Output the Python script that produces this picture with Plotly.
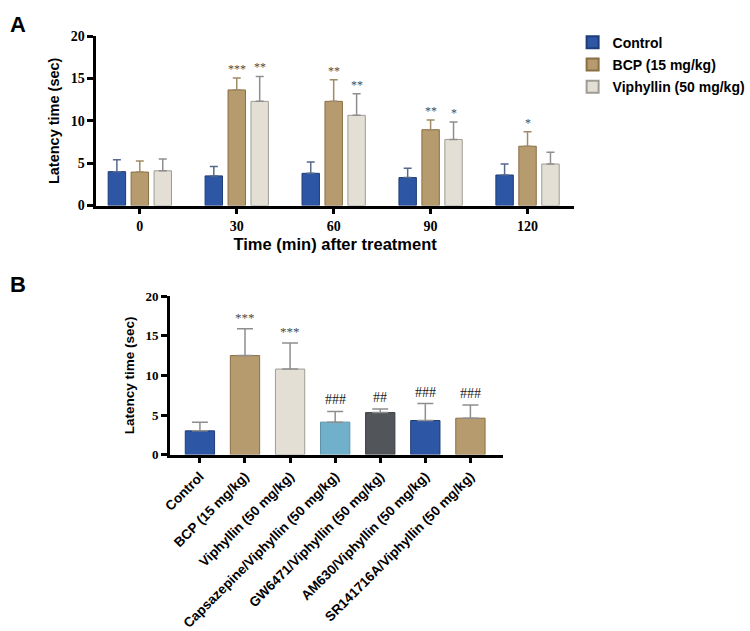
import plotly.graph_objects as go

# Panel A data
times = ["0", "30", "60", "90", "120"]
control_a = [4.0, 3.5, 3.8, 3.3, 3.6]
control_a_sd = [1.4, 1.1, 1.35, 1.1, 1.3]
bcp_a = [3.95, 13.65, 12.3, 8.95, 7.0]
bcp_a_sd = [1.3, 1.4, 2.55, 1.15, 1.7]
viph_a = [4.1, 12.3, 10.65, 7.8, 4.9]
viph_a_sd = [1.4, 2.95, 2.55, 2.05, 1.4]
marks_bcp_a = ["", "***", "**", "**", "*"]
marks_viph_a = ["", "**", "**", "*", ""]

# Panel B data
groups_b = [
    "Control",
    "BCP (15 mg/kg)",
    "Viphyllin (50 mg/kg)",
    "Capsazepine/Viphyllin (50 mg/kg)",
    "GW6471/Viphyllin (50 mg/kg)",
    "AM630/Viphyllin (50 mg/kg)",
    "SR141716A/Viphyllin (50 mg/kg)",
]
values_b = [3.0, 12.5, 10.8, 4.1, 5.3, 4.3, 4.6]
sd_b = [1.1, 3.4, 3.3, 1.35, 0.45, 2.15, 1.65]
marks_b = ["", "***", "***", "###", "##", "###", "###"]

BLUE, BLUE_LINE, BLUE_ERR = "#2D56A4", "#1E3C78", "#56688C"
TAN, TAN_LINE, TAN_ERR = "#B69B6E", "#8A6E44", "#A18A66"
LIGHT, LIGHT_LINE, LIGHT_ERR = "#E3DFD4", "#9E9C95", "#8E8E8E"
CYAN, CYAN_LINE = "#70B0CA", "#5A92AA"
GREY, GREY_LINE = "#52565B", "#3A3D41"

SANS = "Liberation Sans"
SERIF = "Liberation Serif"

fig = go.Figure()

xa = list(range(len(times)))
series_a = [
    ("Control", control_a, control_a_sd, BLUE, BLUE_LINE, BLUE_ERR),
    ("BCP (15 mg/kg)", bcp_a, bcp_a_sd, TAN, TAN_LINE, TAN_ERR),
    ("Viphyllin (50 mg/kg)", viph_a, viph_a_sd, LIGHT, LIGHT_LINE, LIGHT_ERR),
]
for name, vals, sd, fill, line, err in series_a:
    fig.add_trace(
        go.Bar(
            x=xa,
            y=vals,
            name=name,
            legendgroup=name,
            marker=dict(color=fill, line=dict(color=line, width=1)),
            error_y=dict(type="data", array=sd, arrayminus=[0] * len(sd),
                         symmetric=False, color=err, thickness=1.5, width=4),
            xaxis="x",
            yaxis="y",
        )
    )

slot = 0.71 / 3
for j, (vals, sd, marks) in enumerate(
    [(bcp_a, bcp_a_sd, marks_bcp_a), (viph_a, viph_a_sd, marks_viph_a)]
):
    off = j * slot
    for i, m in enumerate(marks):
        if m:
            fig.add_annotation(
                x=i + off, y=vals[i] + sd[i], text=m, showarrow=False,
                xref="x", yref="y", yanchor="bottom", yshift=0,
                font=dict(family=SERIF, size=12, color="#4a4a4a"),
            )

xb = list(range(len(groups_b)))
colors_b = [BLUE, TAN, LIGHT, CYAN, GREY, BLUE, TAN]
lines_b = [BLUE_LINE, TAN_LINE, LIGHT_LINE, CYAN_LINE, GREY_LINE, BLUE_LINE, TAN_LINE]
fig.add_trace(
    go.Bar(
        x=xb,
        y=values_b,
        width=0.65,
        showlegend=False,
        marker=dict(color=colors_b, line=dict(color=lines_b, width=1)),
        error_y=dict(type="data", array=sd_b, arrayminus=[0] * len(sd_b),
                     symmetric=False, color="#8E8E8E", thickness=1.5, width=8),
        xaxis="x2",
        yaxis="y2",
    )
)
for i, m in enumerate(marks_b):
    if m:
        star = m.startswith("*")
        fig.add_annotation(
            x=i, y=values_b[i] + sd_b[i], text=m, showarrow=False,
            xref="x2", yref="y2", yanchor="bottom", yshift=2,
            font=dict(family=SERIF, size=13 if star else 14,
                      color="#4a4a4a" if star else "#222222"),
        )

axis_common = dict(
    showline=True, linecolor="black", linewidth=2.5, ticks="outside",
    ticklen=6, tickwidth=2.5, tickcolor="black", showgrid=False, zeroline=False,
)

fig.update_layout(
    width=750,
    height=631,
    plot_bgcolor="white",
    paper_bgcolor="white",
    margin=dict(l=0, r=0, t=0, b=0),
    barmode="group",
    bargap=0.29,
    bargroupgap=0.24,
    showlegend=True,
    legend=dict(
        x=0.778, y=0.968, xanchor="left", yanchor="top",
        font=dict(family=SANS, size=14, color="black", weight="bold"),
        itemsizing="constant", traceorder="grouped", tracegroupgap=1,
        bgcolor="rgba(0,0,0,0)",
    ),
    xaxis=dict(
        domain=[0.1227, 0.78], anchor="y", range=[-0.45, 4.48],
        tickvals=xa, ticktext=times,
        tickfont=dict(family=SERIF, size=14, color="black", weight="bold"),
        title=dict(text="Time (min) after treatment", standoff=6,
                   font=dict(family=SANS, size=16.5, color="black", weight="bold")),
        **axis_common,
    ),
    yaxis=dict(
        domain=[0.6767, 0.9525], anchor="x", range=[0, 20],
        tickvals=[0, 5, 10, 15, 20],
        tickfont=dict(family=SERIF, size=14, color="black", weight="bold"),
        title=dict(text="Latency time (sec)", standoff=8,
                   font=dict(family=SANS, size=14.5, color="black", weight="bold")),
        **axis_common,
    ),
    xaxis2=dict(
        domain=[0.224, 0.6827], anchor="y2", range=[-0.667, 6.73],
        tickvals=xb, ticktext=groups_b, tickangle=-45,
        tickfont=dict(family=SANS, size=13.5, color="black", weight="bold"),
        **axis_common,
    ),
    yaxis2=dict(
        domain=[0.271, 0.529], anchor="x2", range=[0, 20],
        tickvals=[0, 5, 10, 15, 20],
        tickfont=dict(family=SERIF, size=13, color="black", weight="bold"),
        title=dict(text="Latency time (sec)", standoff=8,
                   font=dict(family=SANS, size=13.5, color="black", weight="bold")),
        **axis_common,
    ),
)

fig.add_annotation(x=0.002, y=1 - 3 / 631, xref="paper", yref="paper", text="A",
                   showarrow=False, xanchor="left", yanchor="top",
                   font=dict(family=SANS, size=22, color="black", weight="bold"))
fig.add_annotation(x=0.002, y=1 - 270 / 631, xref="paper", yref="paper", text="B",
                   showarrow=False, xanchor="left", yanchor="top",
                   font=dict(family=SANS, size=22, color="black", weight="bold"))

fig.write_html(
    "out.html",
    config={"displayModeBar": False},
    post_script="document.body.style.margin='0';",
)
